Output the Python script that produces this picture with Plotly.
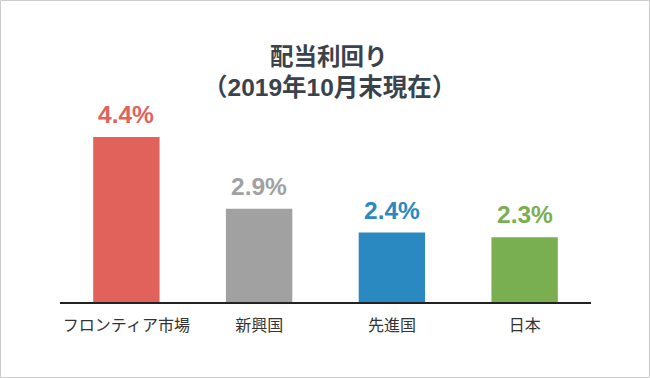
import plotly.graph_objects as go

categories = ["フロンティア市場", "新興国", "先進国", "日本"]
values = [4.4, 2.9, 2.4, 2.3]
value_labels = ["4.4%", "2.9%", "2.4%", "2.3%"]
colors = ["#E1625A", "#A0A1A0", "#2B89C1", "#79AE51"]
title_lines = ["配当利回り", "（2019年10月末現在）"]

W, H = 650, 378
ML, MR, MT, MB = 60, 59, 100, 76
pw = W - ML - MR
ph = H - MT - MB


def px_to_paper_y(ypix):
    return (H - MB - ypix) / ph


def px_to_paper_x(xpix):
    return (xpix - ML) / pw


fig = go.Figure()
fig.add_trace(go.Bar(
    x=categories, y=values,
    marker=dict(color=colors, line=dict(width=0)),
    width=0.5,
    hoverinfo="skip",
))

for c, v, t, col in zip(categories, values, value_labels, colors):
    fig.add_annotation(
        x=c, y=v, text=f"<b>{t}</b>", showarrow=False,
        yanchor="bottom", yshift=7,
        font=dict(family="Liberation Sans, Arial, sans-serif", size=24.5, color=col),
    )

title_sizes = [23.5, 24.5]
for line, ypix, sz in zip(title_lines, [57, 88], title_sizes):
    fig.add_annotation(
        xref="paper", yref="paper",
        x=px_to_paper_x(329), y=px_to_paper_y(ypix),
        xanchor="center", yanchor="middle",
        text=f"<b>{line}</b>", showarrow=False,
        font=dict(family="Liberation Sans, Noto Sans CJK JP", size=sz, color="#3A434C"),
    )

fig.add_shape(
    type="rect", xref="paper", yref="paper",
    x0=px_to_paper_x(0.5), x1=px_to_paper_x(W - 0.5),
    y0=px_to_paper_y(H - 0.5), y1=px_to_paper_y(0.5),
    line=dict(color="#CCCCCC", width=1), fillcolor="rgba(0,0,0,0)", layer="below",
)

fig.update_layout(
    width=W, height=H,
    margin=dict(l=ML, r=MR, t=MT, b=MB, pad=0),
    paper_bgcolor="white", plot_bgcolor="white",
    showlegend=False,
    xaxis=dict(
        range=[-0.5, 3.5],
        showline=True, linecolor="#222222", linewidth=2,
        showgrid=False, zeroline=False, ticks="",
        tickfont=dict(family="Noto Sans CJK JP", size=16, color="#333333"),
        ticklabelstandoff=8,
    ),
    yaxis=dict(
        range=[0.946, 0.946 + ph / 47.77],
        visible=False, showgrid=False, zeroline=False,
    ),
)

fig.write_html("out.html", config={"displayModeBar": False},
               post_script="document.body.style.margin='0';")
